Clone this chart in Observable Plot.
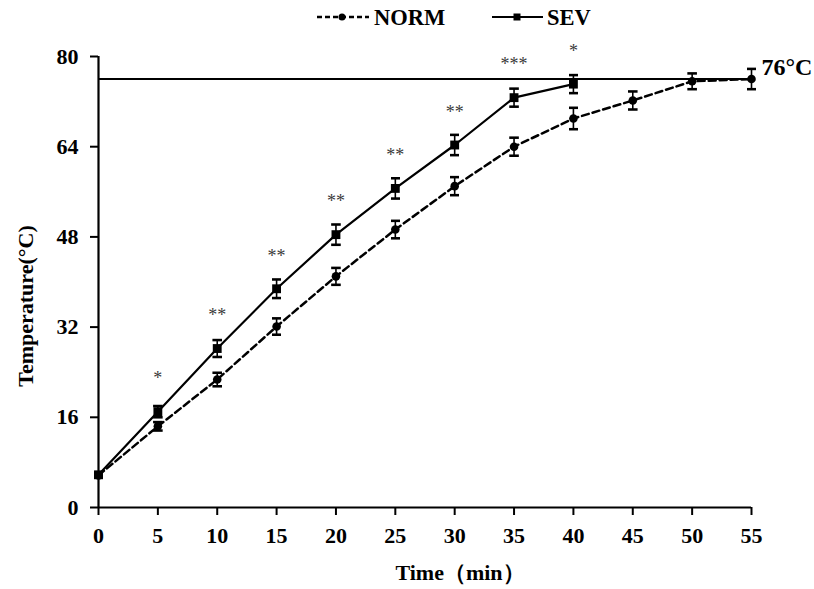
<!DOCTYPE html>
<html><head><meta charset="utf-8">
<script src="https://cdn.jsdelivr.net/npm/d3@7"></script>
<script src="https://cdn.jsdelivr.net/npm/@observablehq/plot@0.6"></script>
<style>
body{margin:0;background:#fff;}
#wrap{position:relative;width:814px;height:589px;font-family:"Liberation Serif","Times New Roman",serif;}
#legend{position:absolute;top:0;left:0;}
#chart{position:absolute;top:0;left:0;}
</style></head><body>
<div id="wrap"><div id="chart"></div>
<svg id="legend" width="814" height="40" font-family="Liberation Serif, Times New Roman, serif" font-weight="bold">
  <line x1="317" x2="369" y1="17" y2="17" stroke="#000" stroke-width="2.5" stroke-dasharray="5,3"/>
  <circle cx="342" cy="17" r="3.5" fill="#000"/>
  <text x="374" y="24.5" font-size="22.5">NORM</text>
  <line x1="492" x2="543" y1="17" y2="17" stroke="#000" stroke-width="2.2"/>
  <rect x="513.5" y="13.5" width="7" height="7" fill="#000"/>
  <text x="547" y="24.5" font-size="22.5">SEV</text>
</svg>
</div>
<script>
const time = [0, 5, 10, 15, 20, 25, 30, 35, 40, 45, 50, 55];
const normMean = [5.7, 14.4, 22.7, 32.1, 41.0, 49.3, 57.0, 64.0, 69.0, 72.2, 75.6, 76.0];
const normErr  = [0.4, 0.75, 1.2, 1.45, 1.5, 1.55, 1.6, 1.6, 1.9, 1.6, 1.4, 1.8];
const sevTime = [0, 5, 10, 15, 20, 25, 30, 35, 40];
const sevMean = [5.8, 17.0, 28.2, 38.8, 48.4, 56.6, 64.3, 72.7, 75.1];
const sevErr  = [0.4, 1.0, 1.5, 1.65, 1.8, 1.8, 1.8, 1.6, 1.6];
const sigLabels = ["", "*", "**", "**", "**", "**", "**", "***", "*"];
const xTicks = [0, 5, 10, 15, 20, 25, 30, 35, 40, 45, 50, 55];
const yTicks = [0, 16, 32, 48, 64, 80];
const threshold = 76;
const thresholdLabel = "76°C";

const norm = time.map((t, i) => ({t, m: normMean[i], e: normErr[i]}));
const sev = sevTime.map((t, i) => ({t, m: sevMean[i], e: sevErr[i], s: sigLabels[i]}));

const font = "Liberation Serif, Times New Roman, serif";
const plot = Plot.plot({
  width: 814, height: 589,
  marginTop: 56, marginBottom: 82, marginLeft: 98, marginRight: 63,
  style: {fontFamily: font, fontWeight: "bold", color: "#000", background: "transparent", overflow: "visible"},
  x: {domain: [0, 55]},
  y: {domain: [0, 80]},
  marks: [
    Plot.axisY({ticks: yTicks, tickSize: 8, tickPadding: 12, fontSize: 22, strokeWidth: 2, label: null}),
    Plot.axisX({ticks: xTicks, tickSize: 8, tickPadding: 12, fontSize: 22, strokeWidth: 2, label: null}),
    Plot.ruleY([threshold], {stroke: "#000", strokeWidth: 2}),
    Plot.ruleX([0], {stroke: "#000", strokeWidth: 2.2}),
    Plot.ruleY([0], {stroke: "#000", strokeWidth: 2.2}),
    Plot.line(norm, {x: "t", y: "m", stroke: "#000", strokeWidth: 2.5, strokeDasharray: "7,4"}),
    Plot.line(sev, {x: "t", y: "m", stroke: "#000", strokeWidth: 2.2}),
    Plot.link(norm, {x1: "t", x2: "t", y1: d => d.m - d.e, y2: d => d.m + d.e, stroke: "#000", strokeWidth: 1.6, marker: "tick"}),
    Plot.link(sev, {x1: "t", x2: "t", y1: d => d.m - d.e, y2: d => d.m + d.e, stroke: "#000", strokeWidth: 1.6, marker: "tick"}),
    Plot.dot(norm, {x: "t", y: "m", r: 4.3, fill: "#000", symbol: "circle"}),
    Plot.dot(sev, {x: "t", y: "m", r: 5, fill: "#000", symbol: "square"}),
    Plot.text(sev, {x: "t", y: "m", text: "s", dy: -33, fontSize: 18, fontWeight: "normal", fill: "#3a3a3a"}),
    Plot.text([thresholdLabel], {x: 55, y: threshold, text: d => d, textAnchor: "start", dx: 10, dy: -12, fontSize: 24}),
    Plot.text(["Time（min）"], {frameAnchor: "bottom", text: d => d, textAnchor: "middle", dx: 35, dy: 72, fontSize: 22}),
    Plot.text(["Temperature(°C)"], {frameAnchor: "left", text: d => d, textAnchor: "middle", lineAnchor: "middle", rotate: -90, dx: -73, dy: 24, fontSize: 22})
  ]
});
document.getElementById("chart").appendChild(plot);
</script>
</body></html>
